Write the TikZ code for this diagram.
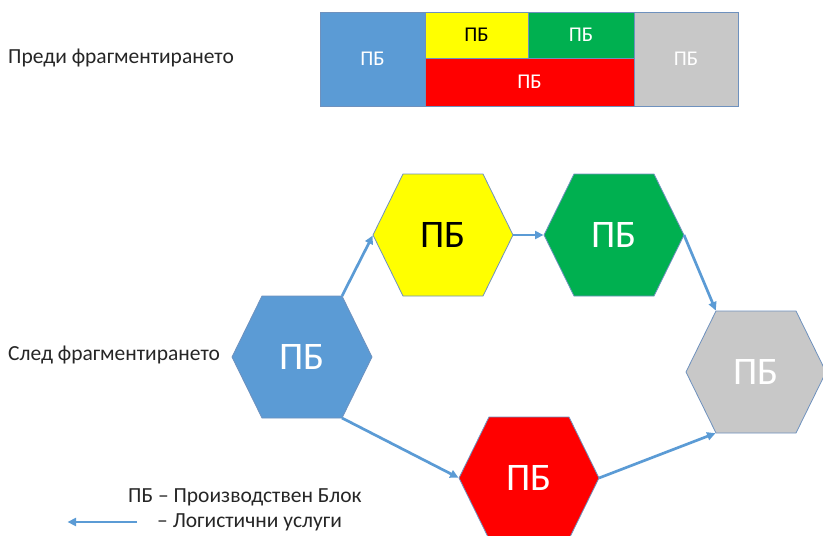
\documentclass[tikz,border=0pt]{standalone}
\usepackage{fontspec}
\setmainfont{Carlito}
\usetikzlibrary{arrows.meta}
\definecolor{cblue}{HTML}{5B9BD5}
\definecolor{cyellow}{HTML}{FFFF00}
\definecolor{cgreen}{HTML}{00B050}
\definecolor{cred}{HTML}{FF0000}
\definecolor{cgray}{HTML}{C8C8C8}
\definecolor{outl}{RGB}{110,145,190}
\definecolor{ctext}{HTML}{262626}
\tikzset{
  hexline/.style={draw=outl, line width=0.8pt},
  hextext/.style={font=\fontsize{39}{42}\selectfont, inner sep=0pt},
  barbox/.style={draw=outl, line width=0.8pt, inner sep=0pt, outer sep=0pt, font=\fontsize{21}{23}\selectfont},
  lbl/.style={font=\fontsize{21.5}{24}\selectfont, text=ctext, inner sep=0pt, anchor=west},
  flow/.style={draw=cblue, line width=2.7pt, -{Triangle[length=8.5pt,width=8pt]}, shorten >=0.5pt},
}
\newcommand\hexnode[6]{% name, cx, cy, fill, textcolor, text
  \begin{scope}[shift={(#2,#3)}]
    \draw[hexline, fill=#4] (-70,0) -- (-40,-61) -- (40,-61) -- (70,0) -- (40,61) -- (-40,61) -- cycle;
    \coordinate (#1-l) at (-70,0);
    \coordinate (#1-r) at (70,0);
    \coordinate (#1-tl) at (-40,-61);
    \coordinate (#1-tr) at (40,-61);
    \coordinate (#1-bl) at (-40,61);
    \coordinate (#1-br) at (40,61);
    \node[hextext, text=#5] (#1) at (0,0) {#6};
  \end{scope}}
\begin{document}
\begin{tikzpicture}[x=1pt,y=-1pt]
\useasboundingbox (0,0) rectangle (823,536);
% top bar
\node[barbox, fill=cblue, text=white, minimum width=105pt, minimum height=94pt] (b1) at (372.5,59) {ПБ};
\node[barbox, fill=cyellow, text=black, minimum width=103pt, minimum height=46pt] (b2) at (476.5,35) {ПБ};
\node[barbox, fill=cgreen, text=white, minimum width=106pt, minimum height=46pt] (b3) at (581,35) {ПБ};
\node[barbox, fill=cred, text=white, minimum width=209pt, minimum height=48pt] (b4) at (529.5,82) {ПБ};
\node[barbox, fill=cgray, text=white, minimum width=104pt, minimum height=94pt] (b5) at (686,59) {ПБ};
% labels
\node[lbl] (pre) at (8,58) {Преди фрагментирането};
\node[lbl] (post) at (8,355) {След фрагментирането};
% hexagons
\hexnode{hb}{302}{357}{cblue}{white}{ПБ}
\hexnode{hy}{443}{235}{cyellow}{black}{ПБ}
\hexnode{hg}{614}{235}{cgreen}{white}{ПБ}
\hexnode{hs}{756}{372}{cgray}{white}{ПБ}
\hexnode{hr}{529}{478}{cred}{white}{ПБ}
% connectors
\draw[flow] (hb-tr) -- (hy-l);
\draw[flow] (hy-r) -- (hg-l);
\draw[flow] (hg-r) -- (hs-tl);
\draw[flow] (hb-br) -- (hr-l);
\draw[flow] (hr-r) -- (hs-bl);
% legend
\node[lbl] (leg1) at (128,497) {ПБ – Производствен Блок};
\node[lbl] (leg2) at (157,522) {– Логистични услуги};
\coordinate (la) at (137,522);
\coordinate (lb) at (67,522);
\draw[flow] (la) -- (lb);
\end{tikzpicture}
\end{document}
